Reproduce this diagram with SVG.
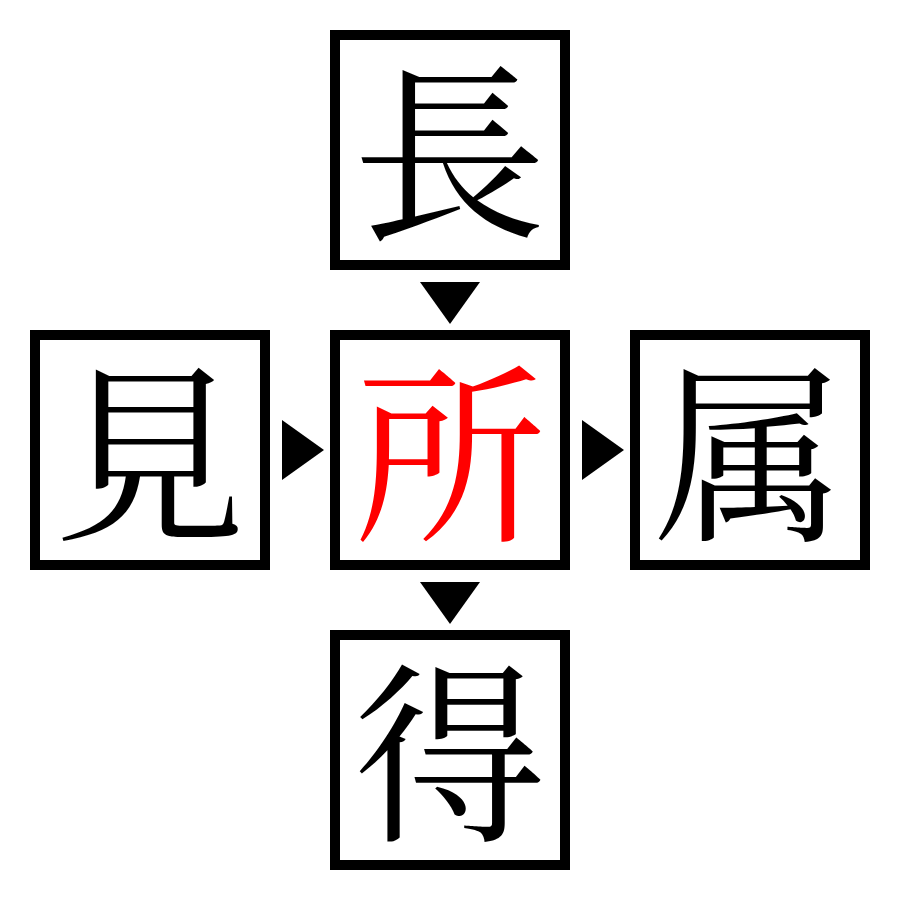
<svg xmlns="http://www.w3.org/2000/svg" width="900" height="900" viewBox="0 0 900 900">
<style>
.box{fill:#fff;stroke:#000;stroke-width:10}
.ch{font-family:"Noto Serif CJK JP","Noto Serif CJK SC","Noto Sans CJK JP",serif;font-size:192px;text-anchor:middle;dominant-baseline:central;fill:#000}
.red{fill:#ff0000}
.arr{fill:#000}
</style>
<rect width="900" height="900" fill="#fff"/>
<g id="connectors">
<polygon class="arr" points="420,282 480,282 450,324"/>
<polygon class="arr" points="420,582 480,582 450,624"/>
<polygon class="arr" points="282,420 282,480 324,450"/>
<polygon class="arr" points="582,420 582,480 624,450"/>
</g>
<g id="node-top"><rect class="box" x="335" y="35" width="230" height="230"/><text class="ch" x="450" y="143">長</text></g>
<g id="node-left"><rect class="box" x="35" y="335" width="230" height="230"/><text class="ch" x="150" y="443">見</text></g>
<g id="node-center"><rect class="box" x="335" y="335" width="230" height="230"/><text class="ch red" x="450" y="443">所</text></g>
<g id="node-right"><rect class="box" x="635" y="335" width="230" height="230"/><text class="ch" x="750" y="443">属</text></g>
<g id="node-bottom"><rect class="box" x="335" y="635" width="230" height="230"/><text class="ch" x="450" y="743">得</text></g>
</svg>
